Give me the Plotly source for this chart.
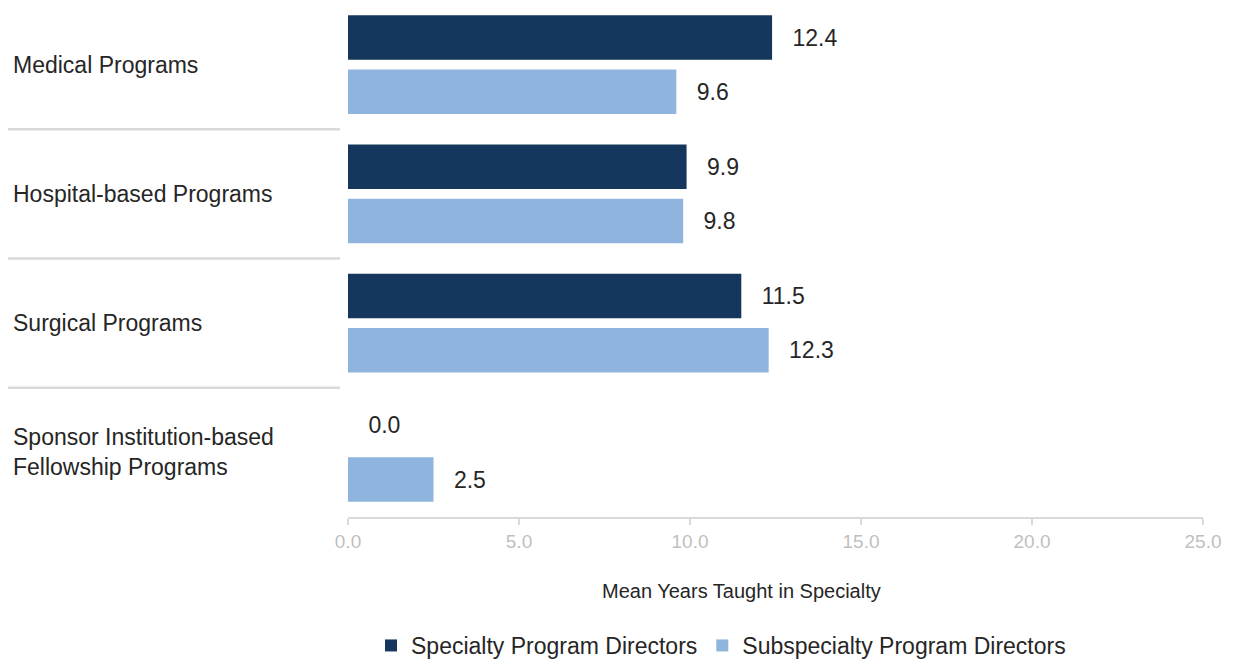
import plotly.graph_objects as go

categories = ["Medical Programs", "Hospital-based Programs", "Surgical Programs",
              "Sponsor Institution-based<br>Fellowship Programs"]
specialty = [12.4, 9.9, 11.5, 0.0]
subspecialty = [9.6, 9.8, 12.3, 2.5]
series_names = ["Specialty Program Directors", "Subspecialty Program Directors"]
x_ticks = [0, 5, 10, 15, 20, 25]
x_title = "Mean Years Taught in Specialty"

DARK = "#15375D"
LIGHT = "#8FB4DE"
FONT = "Liberation Sans, Arial, sans-serif"
TXT = "#262626"
pad = "\u00a0\u00a0\u2009"

ycat = list(range(len(categories)))

fig = go.Figure()
fig.add_trace(go.Bar(
    y=ycat, x=specialty, orientation="h", name=series_names[0],
    marker=dict(color=DARK, line=dict(width=0)),
    text=[pad + f"{v:.1f}" for v in specialty], textposition="outside",
    textfont=dict(size=23, color=TXT, family=FONT), cliponaxis=False,
))
fig.add_trace(go.Bar(
    y=ycat, x=subspecialty, orientation="h", name=series_names[1],
    marker=dict(color=LIGHT, line=dict(width=0)),
    text=[pad + f"{v:.1f}" for v in subspecialty], textposition="outside",
    textfont=dict(size=23, color=TXT, family=FONT), cliponaxis=False,
))

OFFX, OFFY = 8, 5  # page offset of the figure
W, H = 1235 - OFFX, 664 - OFFY
ml, mr, mt, mb = 340, 32, 0, 144
plot_w = W - ml - mr
plot_h = H - mt - mb


def px_x(page_x):
    return (page_x - OFFX - ml) / plot_w


def px_y(page_y):
    return (plot_h - (page_y - OFFY - mt)) / plot_h


# category labels (left aligned)
for i, c in enumerate(categories):
    fig.add_annotation(x=px_x(11), xref="paper", y=i, yref="y",
                       text=c, showarrow=False, xanchor="left", yanchor="middle",
                       align="left", font=dict(size=23, color=TXT, family=FONT))
# separators
for i in range(len(categories) - 1):
    fig.add_shape(type="line", xref="paper", yref="y",
                  x0=px_x(8), x1=px_x(340),
                  y0=i + 0.5, y1=i + 0.5, line=dict(color="#D9D9D9", width=2.5))

fig.add_annotation(x=px_x(741), xref="paper", y=px_y(595), yref="paper",
                   text=x_title, showarrow=False, xanchor="center", yanchor="middle",
                   font=dict(size=20, color=TXT, family=FONT))

fig.update_layout(
    width=W, height=H,
    margin=dict(l=ml, r=mr, t=mt, b=mb, pad=0),
    paper_bgcolor="white", plot_bgcolor="white",
    barmode="group", bargap=0.16, bargroupgap=0.18,
    font=dict(family=FONT, color=TXT),
    showlegend=True,
    legend=dict(orientation="h", x=px_x(721), xanchor="center",
                y=px_y(650), yanchor="middle",
                font=dict(size=23, color=TXT, family=FONT),
                itemwidth=30, tracegroupgap=0, bgcolor="rgba(0,0,0,0)"),
    xaxis=dict(range=[0, 25], tickvals=x_ticks, tickformat=".1f",
               showgrid=False, zeroline=False, showline=True,
               linecolor="#D9D9D9", linewidth=1.5, ticks="outside",
               tickcolor="#D9D9D9", ticklen=6, tickwidth=1.5,
               tickfont=dict(size=19, color="#BFBFBF", family=FONT)),
    yaxis=dict(range=[3.5, -0.439], showticklabels=False, showgrid=False,
               zeroline=False, showline=False, ticks=""),
)

fig.write_html("out.html")
